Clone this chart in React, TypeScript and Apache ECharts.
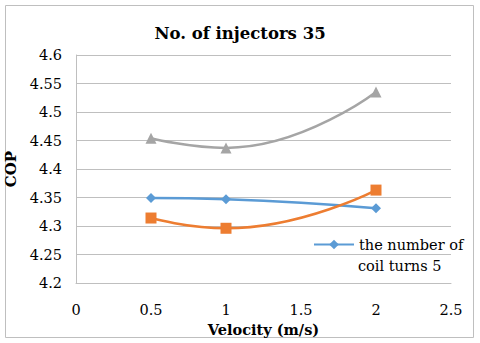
import React, { useEffect, useRef } from "react";
import * as echarts from "echarts";

const velocity = [0.5, 1, 2];
const seriesBlue = [4.349, 4.347, 4.331];
const seriesOrange = [4.314, 4.296, 4.363];
const seriesGray = [4.454, 4.437, 4.535];
const blueName = "the number of coil turns 5";

export default function App() {
  const ref = useRef<HTMLDivElement>(null);
  useEffect(() => {
    const chart = echarts.init(ref.current!, null, { renderer: "svg" });
    const font = "DejaVu Serif";
    const pairs = (ys: number[]) => velocity.map((x, i) => [x, ys[i]]);
    chart.setOption({
      animation: false,
      backgroundColor: "#fff",
      textStyle: { fontFamily: font },
      title: {
        text: "No. of injectors 35",
        left: "center",
        top: 20,
        textStyle: { fontFamily: font, fontSize: 16.5, fontWeight: "bold", color: "#000" },
      },
      graphic: [
        {
          type: "rect",
          shape: { x: 5.5, y: 5.5, width: 468, height: 332 },
          style: { fill: "none", stroke: "#bfbfbf", lineWidth: 1 },
          silent: true,
        },
        {
          type: "text",
          left: 358,
          top: 258,
          style: { text: "coil turns 5", fontFamily: font, fontSize: 14.5, fill: "#000" },
          silent: true,
        },
      ],
      grid: { left: 76, right: 29, top: 55, bottom: 60, outerBoundsMode: "none", containLabel: false },
      xAxis: {
        type: "value",
        min: 0,
        max: 2.5,
        interval: 0.5,
        name: "Velocity (m/s)",
        nameLocation: "middle",
        nameGap: 35,
        nameTextStyle: { fontFamily: font, fontSize: 14.5, fontWeight: "bold", color: "#000" },
        axisLine: { show: true, lineStyle: { color: "#bfbfbf" } },
        axisTick: { show: false },
        splitLine: { show: false },
        axisLabel: { fontFamily: font, fontSize: 14.5, color: "#000", margin: 19 },
      },
      yAxis: {
        type: "value",
        min: 4.2,
        max: 4.6,
        interval: 0.05,
        name: "COP",
        nameLocation: "middle",
        nameGap: 51,
        nameTextStyle: { fontFamily: font, fontSize: 15, fontWeight: "bold", color: "#000" },
        axisLine: { show: true, lineStyle: { color: "#bfbfbf" } },
        axisTick: { show: false },
        splitLine: { show: true, lineStyle: { color: "#bfbfbf" } },
        axisLabel: {
          fontFamily: font,
          fontSize: 14.5,
          color: "#000",
          margin: 14,
          formatter: (v: number) => String(parseFloat(v.toFixed(2))),
        },
      },
      legend: {
        data: [blueName],
        left: 308,
        top: 232,
        itemWidth: 40,
        itemHeight: 12,
        itemGap: 2,
        formatter: () => "the number of",
        textStyle: { fontFamily: font, fontSize: 14.5, color: "#000" },
      },
      series: [
        {
          name: blueName,
          type: "line",
          data: pairs(seriesBlue),
          smooth: true,
          symbol: "diamond",
          symbolSize: 10,
          itemStyle: { color: "#5b9bd5" },
          lineStyle: { color: "#5b9bd5", width: 2.5 },
        },
        {
          name: "orange",
          type: "line",
          data: pairs(seriesOrange),
          smooth: true,
          symbol: "rect",
          symbolSize: 11,
          itemStyle: { color: "#ed7d31" },
          lineStyle: { color: "#ed7d31", width: 2.5 },
        },
        {
          name: "gray",
          type: "line",
          data: pairs(seriesGray),
          smooth: true,
          symbol: "triangle",
          symbolSize: 11,
          itemStyle: { color: "#a5a5a5" },
          lineStyle: { color: "#a5a5a5", width: 2.5 },
        },
      ],
    });
    return () => chart.dispose();
  }, []);
  return (
    <div
      ref={ref}
      style={{ position: "fixed", left: 0, top: 0, width: 480, height: 343 }}
    />
  );
}
